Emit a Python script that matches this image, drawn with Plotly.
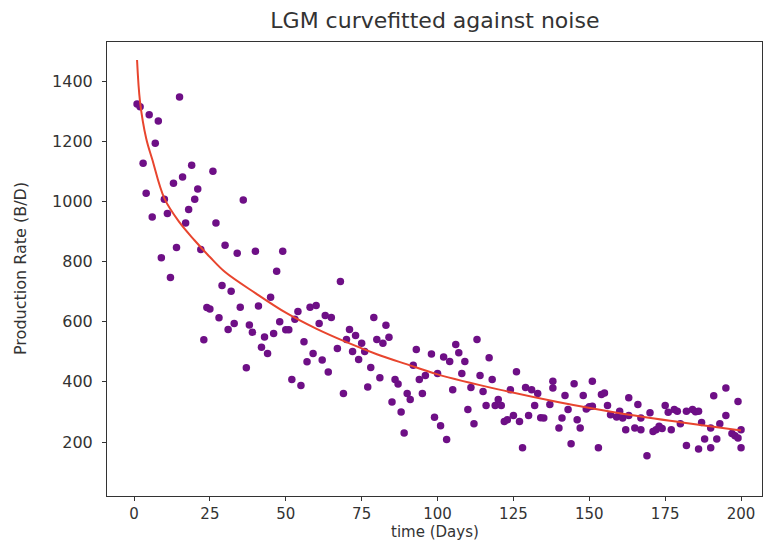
import plotly.graph_objects as go

# ---- data ----
days = list(range(1, 32)) + list(range(32, 66)) + [
    67, 68, 69, 70, 71, 72, 73, 74, 75, 76, 77, 78, 79, 80, 81, 82, 83, 84, 85, 86,
    87, 88, 89, 90, 91, 92, 93, 94, 95, 96, 98, 99, 100] + list(range(101, 135)) + [
    135, 137, 138, 138, 140, 141, 142, 143, 144, 145, 146, 147, 148, 149, 150, 151, 151,
    153, 154, 155, 156, 157, 159, 160, 161, 162, 163, 163, 165, 166, 167, 167, 169,
    170, 171, 172, 173, 174, 175, 176, 177, 178, 179, 180, 182, 182, 184, 185, 186, 186,
    187, 188, 190, 190, 191, 192, 193, 195, 195, 197, 198, 199, 199, 200, 200]

rates = [
    # days 1-31
    1324, 1315, 1127, 1027, 1288, 948, 1193, 1267, 813, 1007, 960, 747, 1060, 847, 1347,
    1081, 928, 973, 1120, 1007, 1041, 840, 540, 647, 642, 1100, 928, 613, 720, 854, 574,
    # days 32-65
    701, 594, 828, 648, 1005, 447, 589, 565, 834, 652, 515, 549, 494, 681, 561, 768, 600,
    834, 573, 573, 408, 608, 634, 388, 533, 467, 648, 494, 654, 594, 473, 621, 433, 614,
    # days 67-100
    511, 734, 361, 541, 574, 501, 554, 474, 528, 501, 383, 448, 614, 541, 414, 528, 588,
    548, 333, 408, 393, 300, 230, 361, 341, 455, 508, 408, 361, 421, 493, 282, 428,
    # days 101-134
    254, 483, 208, 468, 374, 524, 497, 428, 468, 308, 381, 261, 541, 421, 368, 321, 480,
    408, 321, 341, 321, 268, 274, 374, 288, 434, 268, 181, 381, 288, 374, 321, 361, 281,
    # days 135-169
    280, 325, 380, 402, 247, 280, 355, 308, 194, 394, 274, 247, 355, 310, 317, 402, 319,
    181, 358, 363, 321, 291, 283, 302, 280, 241, 288, 347, 247, 325, 280, 241, 154,
    # days 170-200
    297, 235, 241, 252, 245, 321, 299, 241, 308, 302, 261, 302, 188, 308, 301, 302, 177,
    265, 210, 247, 181, 354, 210, 261, 380, 288, 228, 221, 335, 213, 241, 181]

fit_days = [1, 2, 4, 6, 10, 15, 20, 25, 30, 40, 50, 60, 70, 80, 90, 100, 120, 140, 160, 180, 200]
fit_rates = [1470, 1330, 1210, 1140, 1010, 930, 870, 815, 765, 695, 630, 577, 532, 492,
             458, 425, 375, 332, 296, 266, 238]

title_text = "LGM curvefitted against noise"
x_label = "time (Days)"
y_label = "Production Rate (B/D)"
x_ticks = [0, 25, 50, 75, 100, 125, 150, 175, 200]
y_ticks = [200, 400, 600, 800, 1000, 1200, 1400]

fig = go.Figure()
fig.add_trace(go.Scatter(
    x=days, y=rates, mode="markers",
    marker=dict(color="#6e0f86", size=7.5, line=dict(width=0)),
    showlegend=False))
fig.add_trace(go.Scatter(
    x=fit_days, y=fit_rates, mode="lines", line_shape="spline",
    line=dict(color="#e8452e", width=2),
    showlegend=False))

font_family = "DejaVu Sans"
text_color = "#333"
axis_common = dict(
    showgrid=False, zeroline=False, showline=True, linecolor="#333", linewidth=1,
    mirror=True, ticks="outside", ticklen=4, tickcolor="#333", tickwidth=1,
    automargin=False,
)

fig.update_layout(
    width=767, height=542,
    margin=dict(l=107, r=5, t=42, b=46),
    paper_bgcolor="white", plot_bgcolor="white",
    title=dict(text=title_text, x=0.567, xanchor="center", y=0.962, yanchor="middle",
               yref="container", font=dict(family=font_family, size=22, color=text_color)),
    xaxis=dict(range=[-8.9, 206.9], tickvals=x_ticks, ticklabelstandoff=0,
               tickfont=dict(family=font_family, size=15, color=text_color),
               **axis_common),
    yaxis=dict(range=[20.5, 1530], tickvals=y_ticks, ticklabelstandoff=6,
               tickfont=dict(family=font_family, size=16, color=text_color),
               **axis_common),
    annotations=[
        dict(text=x_label, xref="paper", yref="paper", x=0.5, y=0,
             xanchor="center", yanchor="bottom", yshift=-46, borderpad=0,
             showarrow=False,
             font=dict(family=font_family, size=15, color=text_color)),
        dict(text=y_label, xref="paper", yref="paper", x=0, y=0.5,
             xanchor="center", yanchor="middle", xshift=-87, textangle=-90,
             showarrow=False,
             font=dict(family=font_family, size=16, color=text_color)),
    ],
)

fig.write_html("out.html")
